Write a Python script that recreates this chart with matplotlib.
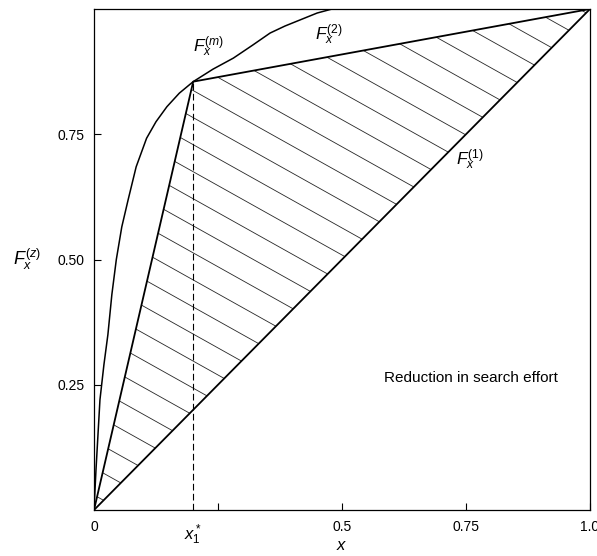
import numpy as np
import matplotlib
matplotlib.use("Agg")
import matplotlib.pyplot as plt
from matplotlib.patches import Polygon

# curves
x_star = 0.2          # x_1*
y_star = 0.855        # F_x(x_1*)

x_one = [0.0, 1.0]                       # F_x^(1)
y_one = [0.0, 1.0]
x_two = [0.0, x_star, 1.0]               # F_x^(2)
y_two = [0.0, y_star, 1.0]
x_m = [0.0, 0.004, 0.012, 0.02, 0.028, 0.036, 0.045, 0.056, 0.069, 0.085, 0.106, 0.125,
       0.147, 0.172, 0.2, 0.24, 0.281, 0.32, 0.355, 0.385, 0.415, 0.45, 0.48]
y_m = [0.0, 0.08, 0.22, 0.29, 0.35, 0.43, 0.50, 0.565, 0.62, 0.685, 0.742, 0.775,
       0.805, 0.832, 0.855, 0.88, 0.902, 0.928, 0.952, 0.966, 0.978, 0.992, 1.0]

x_ticks = [0, 0.25, 0.5, 0.75, 1.0]
x_ticklabels = ['0', '', '0.5', '0.75', '1.0']
y_ticks = [0.25, 0.5, 0.75]
y_ticklabels = ['0.25', '0.50', '0.75']

plt.rcParams['font.family'] = ['Liberation Sans', 'DejaVu Sans']
plt.rcParams['mathtext.fontset'] = 'custom'
plt.rcParams['mathtext.it'] = 'Liberation Sans:italic'
plt.rcParams['mathtext.rm'] = 'Liberation Sans'

fig = plt.figure(figsize=(5.97, 5.56), dpi=100)
ax = fig.add_axes([94 / 597, 1 - 510 / 556, 496 / 597, 501 / 556])

# hatching between F^(2) and F^(1)
region = Polygon(np.column_stack([x_two, y_two]), closed=True, facecolor='none', edgecolor='none')
ax.add_patch(region)
slope = 0.554
xs = np.array([-0.1, 1.2])
for c in np.arange(0.03, 1.55, 0.054):
    ln, = ax.plot(xs, c - slope * xs, color='0.15', lw=0.6)
    ln.set_clip_path(region)

ax.plot(x_one, y_one, color='black', lw=1.3)
ax.plot(x_two, y_two, color='black', lw=1.3)
ax.plot(x_m, y_m, color='black', lw=1.1)
ax.plot([x_star, x_star], [0, y_star], color='black', lw=0.8, dashes=(6, 3))

ax.text(0.2, 0.9, r'$F_x^{(m)}$', fontsize=12.5, ha='left', va='bottom')
ax.text(0.445, 0.925, r'$F_x^{(2)}$', fontsize=12.5, ha='left', va='bottom')
ax.text(0.73, 0.675, r'$F_x^{(1)}$', fontsize=12.5, ha='left', va='bottom')
ax.text(0.585, 0.263, 'Reduction in search effort', fontsize=11, ha='left', va='center')

ax.set_xlim(0, 1)
ax.set_ylim(0, 1)
ax.set_xticks(x_ticks)
ax.set_xticklabels(x_ticklabels)
ax.set_yticks(y_ticks)
ax.set_yticklabels(y_ticklabels)
ax.tick_params(direction='in', length=5, width=0.8, labelsize=10, pad=7)
ax.text(x_star, -0.025, r'$x_1^*$', transform=ax.transData, fontsize=12,
        ha='center', va='top')
ax.set_xlabel(r'$x$', fontsize=12, labelpad=3)
ax.set_ylabel(r'$F_x^{(z)}$', fontsize=13, rotation=0)
ax.yaxis.set_label_coords(-0.135, 0.475)

for s in ax.spines.values():
    s.set_linewidth(0.9)

fig.savefig('out.png', dpi=100)
